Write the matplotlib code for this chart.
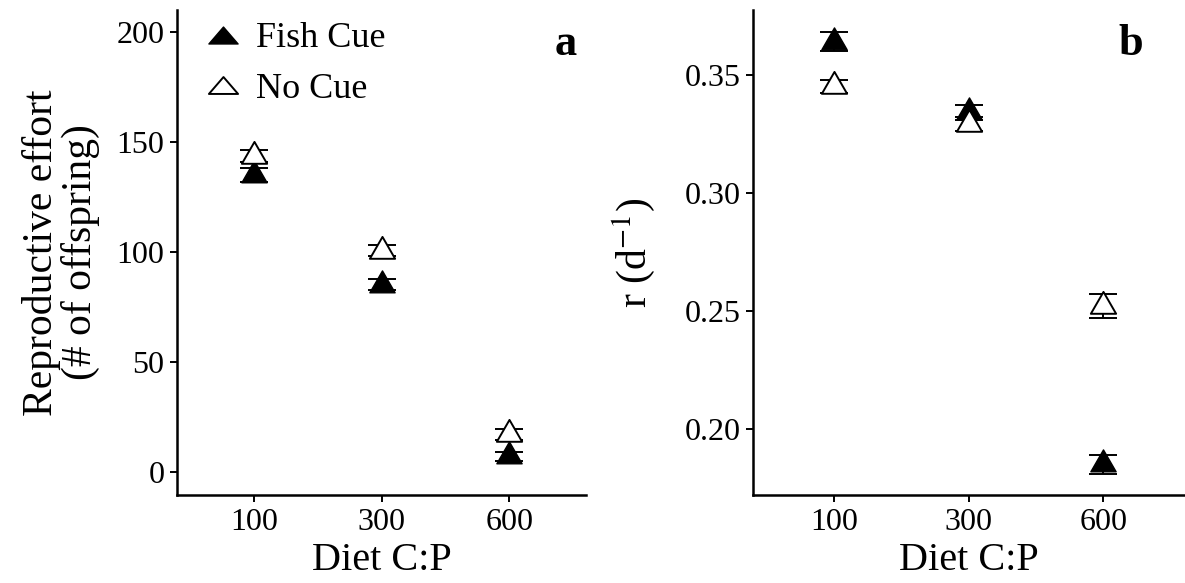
import matplotlib
matplotlib.use("Agg")
import matplotlib.pyplot as plt
from matplotlib.lines import Line2D
from matplotlib.markers import MarkerStyle
from matplotlib.path import Path

plt.rcParams['font.family'] = ['Liberation Serif', 'DejaVu Serif']
plt.rcParams['mathtext.fontset'] = 'stix'

diets = ['100', '300', '600']

# panel a: reproductive effort (# of offspring)
repro_fish = [135, 85, 7]
repro_fish_se = [3, 2.5, 2]
repro_nocue = [143.5, 100.5, 17]
repro_nocue_se = [2.7, 2.5, 2.5]

# panel b: r (per day)
r_fish = [0.364, 0.334, 0.185]
r_fish_se = [0.004, 0.003, 0.004]
r_nocue = [0.345, 0.329, 0.252]
r_nocue_se = [0.0026, 0.003, 0.005]

codes = [Path.MOVETO, Path.LINETO, Path.LINETO, Path.CLOSEPOLY]
# triangle centred on its centroid, like R's pch 2 / 17
tri = MarkerStyle(Path([(0, 1), (-0.866, -0.5), (0.866, -0.5), (0, 1)], codes))
# flatter triangle used in the legend keys
tri_key = MarkerStyle(Path([(0, 0.58), (-1, -0.58), (1, -0.58), (0, 0.58)], codes))


def draw_panel(ax, fish, fish_se, nocue, nocue_se):
    x = range(len(diets))
    ax.errorbar(x, fish, yerr=fish_se, fmt='none', ecolor='black',
                elinewidth=1.4, capsize=10, capthick=1.4, zorder=2)
    ax.plot(x, fish, linestyle='none', marker=tri, markersize=21,
            markerfacecolor='black', markeredgecolor='black',
            markeredgewidth=1.0, zorder=3)
    ax.errorbar(x, nocue, yerr=nocue_se, fmt='none', ecolor='black',
                elinewidth=1.4, capsize=10, capthick=1.4, zorder=4)
    ax.plot(x, nocue, linestyle='none', marker=tri, markersize=21,
            markerfacecolor='white', markeredgecolor='black',
            markeredgewidth=1.4, zorder=5)
    ax.set_xticks(list(x))
    ax.set_xticklabels(diets)
    ax.set_xlim(-0.6, 2.6)
    for side in ['top', 'right']:
        ax.spines[side].set_visible(False)
    for side in ['left', 'bottom']:
        ax.spines[side].set_linewidth(1.8)
    ax.tick_params(axis='both', labelsize=23, width=1.4, length=5, pad=4)
    ax.set_xlabel('Diet C:P', fontsize=29, labelpad=4)


fig = plt.figure(figsize=(11.85, 5.83), dpi=100)
ax1 = fig.add_axes([0.1494, 0.1509, 0.3451, 0.8319])
ax2 = fig.add_axes([0.6354, 0.1509, 0.3638, 0.8319])

draw_panel(ax1, repro_fish, repro_fish_se, repro_nocue, repro_nocue_se)
ax1.set_ylim(-10.6, 210)
ax1.set_yticks([0, 50, 100, 150, 200])
ax1.set_ylabel('Reproductive effort\n(# of offspring)', fontsize=30,
               linespacing=1.0, labelpad=12)

handles = [
    Line2D([], [], linestyle='none', marker=tri_key, markersize=21,
           markerfacecolor='black', markeredgecolor='black', markeredgewidth=1.0),
    Line2D([], [], linestyle='none', marker=tri_key, markersize=21,
           markerfacecolor='white', markeredgecolor='black', markeredgewidth=1.4),
]
ax1.legend(handles, ['Fish Cue', 'No Cue'], loc='upper left', frameon=False,
           fontsize=26, handletextpad=0.3, borderaxespad=0.0,
           labelspacing=0.48, bbox_to_anchor=(0.025, 1.005), handlelength=1.2)
ax1.text(0.978, 0.93, 'a', transform=ax1.transAxes, fontsize=32,
         fontweight='bold', ha='right', va='center')

draw_panel(ax2, r_fish, r_fish_se, r_nocue, r_nocue_se)
ax2.set_ylim(0.1719, 0.3774)
ax2.set_yticks([0.20, 0.25, 0.30, 0.35])
ax2.set_yticklabels(['0.20', '0.25', '0.30', '0.35'])
ax2.set_ylabel(r'r (d$^{-1}$)', fontsize=30, labelpad=20)
ax2.text(0.905, 0.93, 'b', transform=ax2.transAxes, fontsize=32,
         fontweight='bold', ha='right', va='center')

fig.savefig('out.png', dpi=100)
